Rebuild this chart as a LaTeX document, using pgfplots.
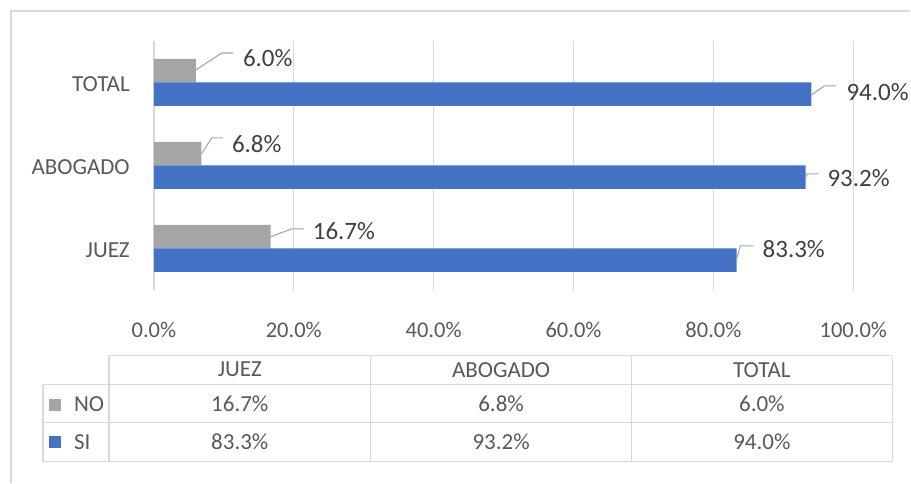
\documentclass[border=0pt]{standalone}
\usepackage{pgfplots}
\pgfplotsset{compat=1.18}
\usepackage{pgfplotstable}
\usepackage{fontspec}
\setmainfont{Carlito}
\definecolor{siblue}{HTML}{4472C4}
\definecolor{nogray}{HTML}{A5A5A5}
\definecolor{gridgray}{HTML}{D9D9D9}
\definecolor{txt}{HTML}{595959}
\definecolor{lbl}{HTML}{404040}
\definecolor{leader}{HTML}{A6A6A6}

\pgfplotstableread{
cat val dx dy
0 16.7 42 16.75
1 6.8 30.4 21.25
2 6.0 47 24.25
}\nodata
\pgfplotstableread{
cat val dx dy
0 83.3 26 -0.75
1 93.2 21.6 -12.75
2 94.0 35 -9.75
}\sidata

\begin{document}
\begin{tikzpicture}
\begin{scope}[shift={(-154pt,290pt)}, x=1pt, y=-1pt]
\useasboundingbox (0,0) rectangle (911,483);
\end{scope}
\begin{axis}[
  at={(0pt,0pt)}, anchor=south west,
  scale only axis, width=700pt, height=249pt,
  xmin=0, xmax=100, ymin=-0.5, ymax=2.5,
  xtick={0,20,40,60,80,100},
  /pgf/number format/assume math mode=true,
  xticklabel={\pgfmathprintnumber[fixed,fixed zerofill,precision=1]{\tick}\%},
  ytick={0,1,2}, yticklabels={JUEZ,ABOGADO,TOTAL},
  yticklabel style={anchor=east, inner sep=0pt, xshift=-24pt, yshift=-2pt, font=\fontsize{23}{27}\selectfont, text=txt},
  xticklabel style={anchor=center, yshift=-40pt, font=\fontsize{22.5}{27}\selectfont, text=txt},
  xmajorgrids=true, ymajorgrids=false,
  grid style={draw=gridgray, line width=1.3pt},
  axis line style={draw=none},
  major tick length=0pt,
  bar width=23.5pt,
  clip=false,
]
\addplot[xbar, bar shift=11.75pt, fill=nogray, draw=none,
  point meta=x,
  visualization depends on={\thisrow{dx} \as \dx},
  visualization depends on={\thisrow{dy} \as \dy},
  nodes near coords={\pgfmathprintnumber[fixed,fixed zerofill,precision=1]{\pgfplotspointmeta}\%},
  nodes near coords style={anchor=west, inner sep=0pt, font=\fontsize{25}{30}\selectfont, text=lbl, xshift=\dx pt, yshift=\dy pt}]
  table[x=val, y=cat] {\nodata};
\addplot[xbar, bar shift=-11.75pt, fill=siblue, draw=none,
  point meta=x,
  visualization depends on={\thisrow{dx} \as \dx},
  visualization depends on={\thisrow{dy} \as \dy},
  nodes near coords={\pgfmathprintnumber[fixed,fixed zerofill,precision=1]{\pgfplotspointmeta}\%},
  nodes near coords style={anchor=west, inner sep=0pt, font=\fontsize{25}{30}\selectfont, text=lbl, xshift=\dx pt, yshift=\dy pt}]
  table[x=val, y=cat] {\sidata};
\addplot[leader, line width=1.1pt, mark=none, unbounded coords=jump] coordinates {
 (6.0,2.151) (9.71,2.355) (11.29,2.355) (nan,nan)
 (6.8,1.139) (8.29,1.331) (9.86,1.331) (nan,nan)
 (16.7,0.139) (19.71,0.235) (21.43,0.235) (nan,nan)
 (94.0,1.849) (95.86,1.958) (97.57,1.958) (nan,nan)
 (93.2,0.861) (93.43,0.898) (95.0,0.898) (nan,nan)
 (83.3,-0.139) (83.86,0.030) (85.71,0.030)
};
\end{axis}
\begin{scope}[shift={(-154pt,290pt)}, x=1pt, y=-1pt]
 \draw[gridgray, line width=1.5pt] (11,483) -- (11,11) -- (911,11);
 \draw[gridgray, line width=1.5pt] (109,356) -- (893,356);
 \draw[gridgray, line width=1.5pt] (43,385) -- (893,385);
 \draw[gridgray, line width=1.5pt] (43,423) -- (893,423);
 \draw[gridgray, line width=1.5pt] (43,462) -- (893,462);
 \draw[gridgray, line width=1.5pt] (43,385) -- (43,462);
 \draw[gridgray, line width=1.5pt] (109,356) -- (109,462);
 \draw[gridgray, line width=1.5pt] (371,356) -- (371,462);
 \draw[gridgray, line width=1.5pt] (632,356) -- (632,462);
 \draw[gridgray, line width=1.5pt] (893,356) -- (893,462);
 \fill[nogray] (49,399) rectangle (61,411);
 \fill[siblue] (49,436) rectangle (61,448);
 \begin{scope}[every node/.style={text=txt, font=\fontsize{23}{27}\selectfont, inner sep=0pt}]
  \node[anchor=west] at (74,404) {NO};
  \node[anchor=west] at (74,442) {SI};
  \node at (240,370) {JUEZ};
  \node at (501.5,370) {ABOGADO};
  \node at (762.5,370) {TOTAL};
  \node at (240,404) {16.7\%};
  \node at (501.5,404) {6.8\%};
  \node at (762.5,404) {6.0\%};
  \node at (240,442) {83.3\%};
  \node at (501.5,442) {93.2\%};
  \node at (762.5,442) {94.0\%};
 \end{scope}
\end{scope}
\end{tikzpicture}
\end{document}
